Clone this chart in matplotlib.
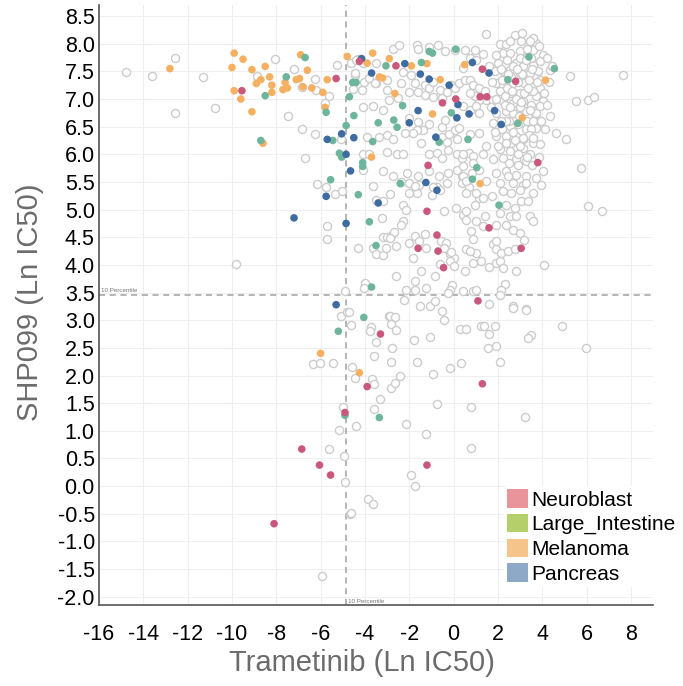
import matplotlib
matplotlib.use('Agg')
import matplotlib.pyplot as plt
from matplotlib.patches import Patch

plt.rcParams['font.family'] = ['Liberation Sans', 'DejaVu Sans']
plt.rcParams['axes.unicode_minus'] = False

# Серые точки (все остальные линии)
other_pts = [
    (-14.8, 7.48), (-13.6, 7.42), (-12.55, 7.74), (-11.3, 7.4), (-12.55, 6.75), (-10.75, 6.83),
    (-8.05, 7.73), (-7.2, 7.55), (-8.85, 7.42), (-6.85, 7.22), (-6.25, 7.37), (-6.2, 7.17),
    (-5.6, 7.06), (-5.8, 6.93), (-7.45, 6.7), (-6.85, 6.45), (-6.25, 6.37), (-5.25, 7.62),
    (-5.1, 6.27), (-6.7, 5.94), (-6.15, 5.47), (-5.75, 5.4), (-5.35, 5.28), (-5.05, 5.34),
    (-4.1, 6.86), (-3.65, 6.88), (-4.1, 5.72), (-4.1, 6.0), (-3.65, 5.42), (-3.35, 6.31),
    (-3.0, 6.05), (-4.3, 7.72), (-3.5, 7.66), (-4.45, 7.44), (-4.05, 7.31), (-3.5, 7.29),
    (-4.55, 7.18), (-4.15, 7.17), (-3.0, 7.17),
    (-5.7, 4.71), (-5.7, 4.46), (-9.8, 4.02), (-4.3, 4.31), (-3.65, 4.31), (-3.5, 4.2),
    (-3.2, 4.18), (-3.05, 4.31), (-3.2, 4.51), (-3.0, 4.51), (-3.25, 4.84), (-3.5, 5.18),
    (-3.2, 5.16), (-4.0, 3.68), (-4.05, 3.59), (-4.9, 3.52), (-5.1, 3.07), (-4.8, 3.15), (-2.9, 3.07),
    (-4.65, 7.65), (-4.4, 7.7), (-4.1, 7.65), (-4.45, 7.47), (-3.8, 7.38), (-3.55, 7.29),
    (-2.75, 7.9), (-2.45, 7.98), (-1.65, 7.98), (-1.6, 7.9), (-1.1, 7.94), (-0.7, 7.98),
    (-0.4, 7.86), (0.05, 7.88),
    (-2.3, 7.48), (-1.9, 7.43), (-1.75, 7.29), (-2.0, 7.12), (-1.6, 7.12), (-1.3, 7.25),
    (-1.3, 7.07), (-1.1, 7.2), (-0.95, 7.04), (-0.95, 7.31), (-0.6, 7.16), (-0.5, 7.02),
    (-0.3, 7.12), (-0.1, 7.25), (0.05, 7.2), (0.25, 7.29),
    (-2.9, 6.99), (-2.5, 7.02), (-3.0, 7.35), (-2.35, 7.29), (-3.2, 6.8),
    (-2.0, 6.66), (-1.6, 6.58), (-1.4, 6.44), (-1.65, 6.44), (-1.85, 6.38),
    (-0.5, 6.5), (-0.4, 6.62), (-0.5, 6.32), (-0.2, 6.36), (-0.3, 6.22), (0.15, 6.27),
    (0.05, 6.44), (0.25, 6.48), (-1.1, 6.55),
    (-3.9, 6.32), (-3.0, 6.35), (-2.75, 6.27), (-2.2, 6.38), (-1.45, 6.2),
    (-3.8, 6.0), (-2.55, 6.0), (-2.3, 6.0), (-1.1, 6.0), (-0.75, 6.03), (-0.5, 5.94),
    (-0.25, 6.08), (0.15, 6.0), (0.4, 5.94), (0.7, 6.03),
    (-3.2, 5.69), (-2.75, 5.6), (-2.1, 5.67), (-1.6, 5.6), (-1.1, 5.69), (-0.65, 5.6),
    (-0.25, 5.67), (0.15, 5.72), (0.4, 5.6), (0.85, 5.67),
    (-2.35, 5.5), (-2.0, 5.48), (-1.55, 5.45), (-0.75, 5.41), (-0.3, 5.48), (0.4, 5.48), (0.7, 5.41),
    (1.45, 8.18), (0.5, 7.89), (0.72, 7.74), (0.95, 7.89), (1.02, 7.71), (1.33, 7.82),
    (0.42, 7.56), (0.5, 7.35), (0.72, 7.35), (0.87, 7.26), (1.17, 7.2), (1.4, 7.14),
    (1.48, 6.99), (1.17, 6.99), (0.95, 7.05), (0.72, 7.11),
    (0.42, 6.87), (0.72, 6.81), (1.02, 6.87), (1.17, 6.75),
    (0.72, 6.36), (1.17, 6.39), (1.48, 6.15), (0.42, 6.0), (0.87, 5.97), (1.33, 6.0),
    (0.42, 5.78), (0.87, 5.84), (1.17, 5.72), (0.42, 5.6), (1.48, 5.51), (0.57, 5.3), (1.17, 5.21),
    (3.05, 8.05), (3.73, 8.01), (2.08, 7.99), (2.38, 7.99), (2.23, 7.83), (2.53, 7.83),
    (2.98, 7.86), (3.58, 7.89), (4.03, 7.8), (3.28, 7.74), (2.83, 7.65), (3.13, 7.59),
    (3.58, 7.62), (3.88, 7.68), (2.0, 7.65), (1.85, 7.5), (2.23, 7.5), (2.53, 7.53),
    (2.98, 7.47), (3.43, 7.47), (3.81, 7.5), (4.33, 7.53), (5.24, 7.42), (7.65, 7.44),
    (1.93, 7.29), (2.23, 7.26), (2.68, 7.29), (3.2, 7.29), (3.58, 7.26), (3.88, 7.2),
    (2.08, 7.14), (2.53, 7.11), (2.98, 7.11), (3.36, 7.14), (3.73, 7.05), (4.03, 6.96),
    (1.78, 6.99), (2.23, 6.96), (2.68, 6.93), (3.13, 6.96), (3.51, 6.9), (3.88, 6.87),
    (4.33, 6.69), (5.54, 6.96), (6.06, 6.98), (6.34, 7.04), (1.93, 6.75), (2.38, 6.78),
    (2.68, 6.75), (3.28, 6.78), (3.66, 6.72), (3.88, 6.6), (1.78, 6.57), (2.53, 6.51),
    (3.28, 6.45), (3.73, 6.48), (4.11, 6.45), (4.64, 6.39), (5.09, 6.27), (1.93, 6.33),
    (2.38, 6.33), (2.83, 6.33), (3.13, 6.27), (3.58, 6.21), (3.88, 6.18), (2.08, 6.09),
    (2.53, 6.06), (3.13, 6.12), (3.43, 6.0), (1.78, 5.91), (2.23, 5.94), (2.83, 5.91),
    (3.28, 5.88), (4.03, 5.7), (5.76, 5.76), (1.93, 5.66), (2.38, 5.7), (2.83, 5.63),
    (3.28, 5.6), (3.73, 5.57), (2.08, 5.48), (2.68, 5.48), (3.13, 5.45), (3.96, 5.45),
    (2.4, 7.7), (2.7, 7.6), (3.0, 7.75), (3.3, 7.9), (2.6, 7.4), (2.9, 7.3), (3.1, 7.45),
    (3.4, 7.35), (3.6, 7.15), (2.4, 7.2), (2.8, 7.0), (3.0, 6.85), (3.3, 6.6), (2.5, 6.6),
    (2.9, 6.55), (3.5, 6.45), (2.2, 6.45), (2.6, 6.2), (3.0, 6.15), (3.4, 6.35), (2.3, 6.9),
    (3.7, 6.75), (3.9, 7.35), (4.1, 7.1), (3.2, 7.1), (2.2, 7.35), (1.9, 7.0), (3.5, 7.75),
    (2.75, 8.15), (3.85, 7.95), (3.6, 8.1), (2.35, 6.6), (2.7, 6.4),
    (2.15, 7.55), (2.45, 7.45), (2.85, 7.55), (3.25, 7.7), (3.55, 7.55), (3.75, 7.3),
    (3.35, 7.2), (2.65, 7.15), (2.3, 7.05), (3.05, 6.95), (3.45, 6.8), (2.55, 6.85),
    (2.15, 6.6), (2.95, 6.7), (3.6, 6.6), (3.15, 6.3), (2.75, 6.25), (2.35, 6.2), (3.6, 6.3),
    (2.9, 6.0), (3.3, 5.95), (2.5, 5.85), (3.95, 6.6), (4.2, 6.9), (4.3, 7.3), (4.45, 7.6),
    (4.2, 7.75), (1.9, 7.8), (2.55, 8.05), (3.1, 8.2), (3.45, 8.05), (2.0, 6.15), (2.45, 5.6),
    (2.9, 5.8), (3.55, 5.8), (1.85, 6.4), (1.7, 6.85), (1.75, 7.3), (1.6, 7.6), (3.85, 5.95),
    (-2.86, 5.29), (-1.99, 5.3), (-1.66, 5.3), (-1.72, 5.42), (-0.93, 5.41), (-0.63, 5.36),
    (-0.96, 5.27), (0.54, 5.51), (1.02, 5.3), (1.32, 5.21), (1.74, 5.24), (-0.41, 4.97),
    (0.12, 5.03), (0.42, 4.91), (0.57, 4.97), (0.57, 4.81), (0.95, 5.09), (1.4, 4.88),
    (1.02, 4.79), (1.32, 4.7), (-2.29, 5.09), (-2.14, 4.99), (-2.29, 4.79), (-2.36, 4.73),
    (-2.82, 4.53), (-2.67, 4.59), (-2.89, 4.49), (-2.59, 4.34), (-1.99, 4.4), (-1.76, 4.53),
    (-1.54, 4.43), (-1.31, 4.55), (-1.24, 4.31), (-1.84, 4.13), (-1.46, 3.89), (-0.86, 3.8),
    (-2.59, 3.8), (-1.76, 3.71), (-2.14, 3.55), (-1.76, 3.55), (-1.24, 3.58), (-0.56, 4.43),
    (-0.33, 4.4), (-0.41, 4.31), (-0.18, 4.19), (0.04, 4.13), (-0.63, 4.01), (-0.18, 4.07),
    (0.04, 3.98), (-0.11, 4.23), (0.8, 4.61), (0.87, 4.46), (1.02, 4.22), (0.87, 4.04),
    (1.25, 4.07), (0.57, 4.28), (0.72, 4.25), (0.5, 3.89), (-0.06, 3.63), (-0.18, 3.55),
    (-0.26, 3.49), (0.42, 3.52), (0.87, 3.52), (1.02, 3.55), (1.77, 4.37), (1.92, 4.43),
    (1.92, 4.04), (1.62, 3.96),
    (2.23, 5.33), (2.6, 5.3), (2.98, 5.36), (3.28, 5.48), (3.58, 5.3), (2.38, 5.09),
    (2.75, 5.03), (3.05, 5.15), (3.36, 5.15), (2.08, 4.94), (2.53, 4.88), (2.83, 4.88),
    (3.43, 4.88), (3.58, 4.79), (1.93, 4.73), (2.38, 4.73), (2.68, 4.64), (2.98, 4.58),
    (3.2, 4.45), (1.93, 4.28), (2.15, 4.22), (2.45, 4.25), (2.75, 4.28), (2.08, 4.07),
    (2.23, 3.95), (2.8, 3.89), (4.08, 3.99), (2.3, 3.65), (2.15, 3.55), (2.08, 3.46),
    (2.68, 3.25), (3.28, 3.2), (6.07, 5.07), (6.7, 4.98),
    (-2.24, 3.36), (-1.53, 3.25), (-1.08, 3.25), (-0.83, 3.34), (-0.51, 3.17), (1.58, 3.3),
    (2.68, 3.22), (3.28, 3.19), (-4.74, 3.14), (-4.62, 2.91), (-3.72, 2.87), (-3.76, 2.8),
    (-2.86, 3.08), (-2.66, 3.06), (-2.81, 2.93), (-2.59, 2.83), (-0.45, 3.0), (0.27, 2.84),
    (0.54, 2.84), (1.25, 2.9), (1.37, 2.9), (1.85, 2.89), (1.6, 2.75), (3.51, 2.74),
    (3.36, 2.68), (4.89, 2.9), (5.96, 2.49), (-3.52, 2.6), (-2.77, 2.49), (-1.79, 2.65),
    (-1.08, 2.69), (1.55, 2.49), (1.93, 2.54), (-3.6, 2.35), (-6.35, 2.2), (-6.02, 2.22),
    (-5.45, 2.22), (-4.57, 2.15), (-4.47, 1.96), (-3.67, 1.93), (-3.61, 1.84), (-2.81, 2.25),
    (-2.81, 1.78), (-2.63, 1.87), (-2.41, 1.99), (-1.66, 2.25), (-0.93, 2.02), (-0.18, 2.13),
    (0.35, 2.23), (2.11, 2.25), (-3.34, 1.58), (-3.6, 1.4), (-4.97, 1.43), (-4.42, 1.08),
    (-5.18, 1.02), (-2.14, 1.13), (-1.23, 0.95), (-0.75, 1.49), (0.77, 1.43), (3.22, 1.25),
    (0.77, 0.69), (-5.64, 0.67), (-4.95, 0.54), (-4.89, 0.08), (-1.9, 0.2), (-1.73, 0.0),
    (-3.84, -0.24), (-3.64, -0.32), (-4.69, -0.5), (-4.62, -0.48), (-5.94, -1.62),
]

neuroblast_pts = [
    (-5.3, 7.37), (-9.55, 7.15), (-4.25, 7.68), (-2.6, 7.6), (1.3, 7.54), (0.1, 7.0),
    (-0.5, 6.93), (1.2, 7.04), (1.5, 7.04), (-1.15, 5.8), (2.8, 7.32), (3.8, 5.85),
    (-1.2, 4.97), (-0.75, 4.54), (-1.6, 4.3), (-0.7, 4.25), (-0.45, 3.95), (1.6, 4.67),
    (1.1, 3.35), (3.05, 4.3), (-3.3, 2.75), (-3.9, 1.8), (1.3, 1.85), (-4.9, 1.33),
    (-6.85, 0.67), (-6.05, 0.38), (-5.55, 0.2), (-1.2, 0.38), (-8.1, -0.68),
]

intestine_pts = [
    (-6.7, 7.75), (-7.55, 7.4), (-8.5, 7.06), (-5.75, 6.76), (-4.85, 6.52), (-4.5, 6.7),
    (-4.7, 7.04), (-4.55, 7.3), (-4.4, 7.3), (-3.05, 7.6), (-8.7, 6.25), (-5.45, 6.25),
    (-3.65, 6.23), (-3.4, 6.57), (-5.15, 6.02), (-5.05, 5.95), (-4.1, 5.85), (-4.1, 5.78),
    (-5.55, 5.54), (-4.3, 5.27), (-1.1, 7.86), (-0.95, 7.83), (0.1, 7.9), (-1.45, 7.66),
    (-2.3, 6.88), (-2.7, 6.62), (-2.55, 6.49), (-0.65, 6.22), (0.65, 6.27), (-2.4, 5.47),
    (1.05, 5.76), (3.4, 7.76), (4.55, 7.55), (2.45, 7.35), (-0.1, 6.75), (2.9, 6.56),
    (0.85, 5.55), (-3.8, 4.78), (-3.5, 4.35), (-3.7, 3.6), (2.05, 5.08), (-4.05, 3.05),
    (-5.2, 2.8), (-4.9, 1.28), (-3.35, 1.24),
]

melanoma_pts = [
    (-9.9, 7.83), (-9.5, 7.72), (-6.9, 7.8), (-12.8, 7.55), (-10.0, 7.57), (-9.1, 7.53),
    (-8.5, 7.59), (-6.6, 7.52), (-8.7, 7.35), (-8.3, 7.4), (-8.9, 7.28), (-8.2, 7.25),
    (-7.6, 7.3), (-7.1, 7.35), (-6.95, 7.37), (-7.5, 7.2), (-7.7, 7.17), (-6.8, 7.22),
    (-6.4, 7.2), (-5.9, 7.12), (-5.7, 7.35), (-9.9, 7.15), (-8.2, 7.12), (-9.6, 7.0),
    (-9.1, 6.77), (-5.8, 6.85), (-8.6, 6.2), (-3.7, 5.95), (-4.8, 7.77), (-3.65, 7.83),
    (-3.9, 7.65), (-3.35, 7.4), (-3.2, 7.38), (-2.9, 7.73), (-1.9, 7.6), (-1.2, 7.64),
    (-2.65, 7.1), (-0.95, 6.73), (-0.6, 7.35), (0.5, 7.62), (1.2, 5.47), (4.15, 7.34),
    (3.1, 6.66), (-6.0, 2.4), (-4.25, 2.05),
]

pancreas_pts = [
    (-4.15, 7.73), (-3.7, 7.47), (-5.05, 6.37), (-5.7, 6.27), (-4.5, 6.3), (-4.85, 6.0),
    (-4.65, 5.7), (-5.75, 5.24), (-7.2, 4.85), (-4.85, 4.75), (-3.4, 5.12), (-5.3, 3.28),
    (-2.2, 7.64), (-1.5, 7.45), (-0.2, 7.25), (0.85, 7.66), (1.6, 7.47), (-1.6, 6.79),
    (-2.0, 6.57), (0.15, 6.66), (-0.8, 6.31), (0.2, 6.9), (-1.25, 5.49), (-1.1, 7.36),
    (0.7, 6.73), (1.85, 6.79), (2.15, 6.54), (-0.75, 5.35),
]

x_pct10 = -4.85  # 10-й перцентиль Trametinib
y_pct10 = 3.45   # 10-й перцентиль SHP099

legend_names = ['Neuroblast', 'Large_Intestine', 'Melanoma', 'Pancreas']
legend_colors = ['#e8949a', '#b5cf6b', '#f5c48a', '#8ea9c7']
point_colors = ['#c9587c', '#6db59b', '#f5b061', '#3e6ba0']

fig = plt.figure(figsize=(6.83, 6.86), dpi=100)
ax = fig.add_axes([99 / 683, 81 / 686, 554 / 683, 600 / 686])

gx, gy = zip(*other_pts)
ax.scatter(gx, gy, s=34, facecolors='white', edgecolors='#cccccc', linewidths=1.0, zorder=2)

for pts, col in zip([melanoma_pts, intestine_pts, pancreas_pts, neuroblast_pts],
                    [point_colors[2], point_colors[1], point_colors[3], point_colors[0]]):
    px, py = zip(*pts)
    ax.scatter(px, py, s=30, color=col, edgecolors='none', zorder=3)

ax.axvline(x_pct10, color='#a0a0a0', ls=(0, (4, 3)), lw=1.1, zorder=1)
ax.axhline(y_pct10, color='#a0a0a0', ls=(0, (4, 3)), lw=1.1, zorder=1)
ax.text(-15.9, y_pct10 + 0.04, '10 Percentile', fontsize=4.5, color='#777777', va='bottom')
ax.text(x_pct10 + 0.08, -2.13, '10 Percentile', fontsize=4.5, color='#777777', va='bottom')

ax.set_xlim(-16, 9)
ax.set_ylim(-2.15, 8.7)
ax.set_xticks(range(-16, 9, 2))
ax.set_yticks([v / 2 for v in range(-4, 18)])
ax.set_yticklabels(['%.1f' % (v / 2) for v in range(-4, 18)])
ax.tick_params(length=0, labelsize=15.5, colors='black')
ax.tick_params(axis='x', pad=14)
ax.tick_params(axis='y', pad=3)
ax.grid(color='#efefef', lw=0.8)
ax.set_axisbelow(True)

for s in ['top', 'right']:
    ax.spines[s].set_visible(False)
for s in ['left', 'bottom']:
    ax.spines[s].set_color('#555555')
    ax.spines[s].set_linewidth(1.2)

fig.text(362 / 683, 1 - 663 / 686, 'Trametinib (Ln IC50)', fontsize=21, color='#6b6b6b',
         ha='center', va='center')
fig.text(30 / 683, 1 - 302 / 686, 'SHP099 (Ln IC50)', fontsize=21, color='#6b6b6b',
         ha='center', va='center', rotation=90)

handles = [Patch(facecolor=c, edgecolor='none') for c in legend_colors]
leg = fig.legend(handles, legend_names, loc='upper left', bbox_to_anchor=(504 / 683, 1 - 486 / 686),
                 fontsize=15, frameon=True, handlelength=1.0, handleheight=1.0,
                 handletextpad=0.15, labelspacing=0.2, borderpad=0.15, borderaxespad=0)
leg.get_frame().set_facecolor('white')
leg.get_frame().set_edgecolor('none')
leg.get_frame().set_alpha(1)

plt.savefig('out.png', dpi=100)
